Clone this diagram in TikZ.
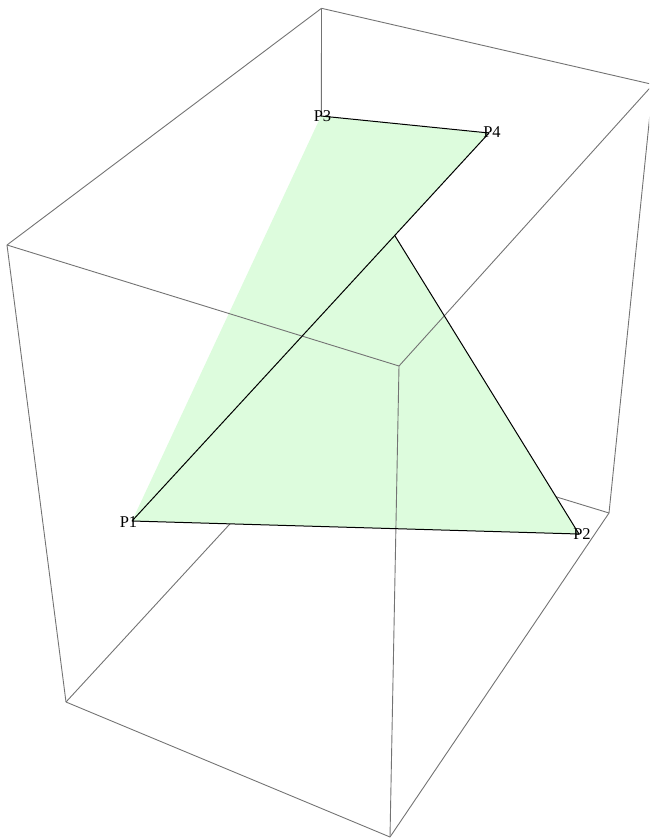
\documentclass[tikz,border=0pt]{standalone}
\usepackage{fontspec}
\setmainfont{Liberation Serif}
\definecolor{polyfill}{RGB}{221,252,221}
\begin{document}
\begin{tikzpicture}[x=1pt,y=-1pt,
  boxedge/.style={draw=black!55,line width=0.9pt},
  polyedge/.style={draw=black,line width=1pt},
  lbl/.style={font=\fontsize{16.5}{17}\selectfont,inner sep=0pt}]
\useasboundingbox (0,0) rectangle (649,838);
\clip (0,0) rectangle (649,838);
% box corners
\coordinate (A) at (321.5,8.3);
\coordinate (B) at (653,84.5);
\coordinate (C) at (399,366);
\coordinate (D) at (7,245);
\coordinate (E) at (66,702);
\coordinate (F) at (390,837);
\coordinate (G) at (609,513);
\coordinate (H) at (321,425);
% polygon corners
\coordinate (P1) at (132,521);
\coordinate (P2) at (579,534);
\coordinate (P3) at (321,116);
\coordinate (P4) at (489,133);
\coordinate (X) at (intersection of P2--P3 and P1--P4);
% hidden box edges (covered by the polygon)
\draw[boxedge] (A) -- (H);
\draw[boxedge] (E) -- (H);
\draw[boxedge] (G) -- (H);
% back / outer edges
\draw[boxedge] (A) -- (B);
\draw[boxedge] (A) -- (D);
\draw[boxedge] (D) -- (E);
\draw[boxedge] (B) -- (G);
\draw[boxedge] (E) -- (F);
\draw[boxedge] (F) -- (G);
% polygon
\fill[polyfill] (P1) -- (P2) -- (X) -- (P4) -- (P3) -- cycle;
% front edges over the polygon
\draw[boxedge] (D) -- (C);
\draw[boxedge] (C) -- (B);
\draw[boxedge] (C) -- (F);
% polygon edges
\draw[polyedge] (P3) -- (P4);
\draw[polyedge] (P4) -- (P1);
\draw[polyedge] (P1) -- (P2);
\draw[polyedge] (P2) -- (X);
% labels
\node[lbl] (L1) at (128.5,522) {P1};
\node[lbl] (L2) at (582,534.5) {P2};
\node[lbl] (L3) at (322.5,116.5) {P3};
\node[lbl] (L4) at (492,132.5) {P4};
\end{tikzpicture}
\end{document}
